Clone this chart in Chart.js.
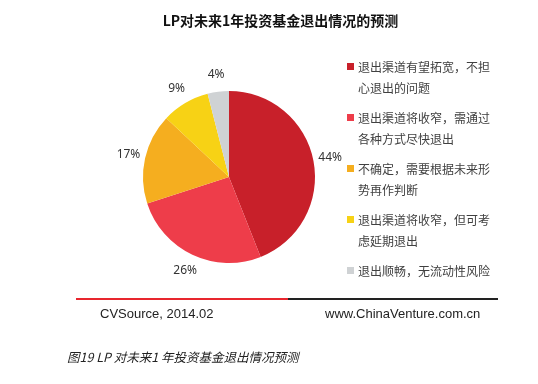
<!DOCTYPE html>
<html><head><meta charset="utf-8">
<script src="https://cdn.jsdelivr.net/npm/chart.js@4/dist/chart.umd.min.js"></script>
<style>
html,body{margin:0;padding:0;background:#fff;width:538px;height:384px;overflow:hidden;}
#wrap{position:relative;width:538px;height:384px;font-family:"Noto Sans CJK SC","Noto Sans",sans-serif;}
canvas{position:absolute;left:0;top:0;}
.title{position:absolute;left:0;width:561px;top:10px;text-align:center;font-weight:bold;font-size:14px;color:#111;line-height:20px;}
.legend{position:absolute;left:347px;top:56px;}
.item{position:relative;font-size:12px;line-height:21px;color:#404040;margin-bottom:9px;padding-left:11px;}
.sq{position:absolute;left:0;top:7px;width:7px;height:7px;}
.line{position:absolute;top:298px;height:2px;}
.foot{position:absolute;top:305px;font-family:"Liberation Sans",Arial,sans-serif;font-size:13px;color:#222;line-height:18px;}
.cap{position:absolute;left:67px;top:348px;font-size:12.5px;font-style:italic;color:#222;line-height:18px;}
</style></head>
<body><div id="wrap">
<canvas id="c" width="538" height="384"></canvas>
<div class="title" id="title"></div>
<div class="legend" id="legend"></div>
<div class="line" style="left:76px;width:212px;background:#E8262E"></div>
<div class="line" style="left:288px;width:210px;background:#222"></div>
<div class="foot" style="left:100px">CVSource, 2014.02</div>
<div class="foot" style="left:325px">www.ChinaVenture.com.cn</div>
<div class="cap">图19 LP 对未来1 年投资基金退出情况预测</div>
</div>
<script>
const chartTitle = "LP对未来1年投资基金退出情况的预测";
const categories = [
  ["退出渠道有望拓宽，不担","心退出的问题"],
  ["退出渠道将收窄，需通过","各种方式尽快退出"],
  ["不确定，需要根据未来形","势再作判断"],
  ["退出渠道将收窄，但可考","虑延期退出"],
  ["退出顺畅，无流动性风险"]
];
const values = [44, 26, 17, 9, 4];
const colors = ["#C8202A", "#EE3D4A", "#F5AE1F", "#F7D215", "#CFD2D4"];

document.getElementById('title').textContent = chartTitle;
const lg = document.getElementById('legend');
categories.forEach((lines, i) => {
  const d = document.createElement('div');
  d.className = 'item';
  const s = document.createElement('span');
  s.className = 'sq'; s.style.background = colors[i];
  d.appendChild(s);
  lines.forEach((t, k) => { if (k) d.appendChild(document.createElement('br')); d.appendChild(document.createTextNode(t)); });
  lg.appendChild(d);
});

const pctLabels = {
  id: 'pctLabels',
  afterDatasetsDraw(chart) {
    const ctx = chart.ctx;
    const meta = chart.getDatasetMeta(0);
    ctx.save();
    ctx.font = '12px "Noto Sans", sans-serif';
    ctx.fillStyle = '#333';
    ctx.textAlign = 'center';
    ctx.textBaseline = 'middle';
    meta.data.forEach((arc, i) => {
      const p = arc.getProps(['x','y','startAngle','endAngle','outerRadius'], true);
      const a = (p.startAngle + p.endAngle) / 2;
      const r = p.outerRadius + 17;
      ctx.fillText(values[i] + '%', p.x + Math.cos(a) * r, p.y + Math.sin(a) * r);
    });
    ctx.restore();
  }
};

new Chart(document.getElementById('c'), {
  type: 'pie',
  data: { labels: categories.map(l => l.join('')), datasets: [{ data: values, backgroundColor: colors, borderWidth: 0 }] },
  options: {
    responsive: false, animation: false,
    layout: { padding: { left: 143, right: 223, top: 91, bottom: 121 } },
    plugins: { legend: { display: false }, tooltip: { enabled: false } }
  },
  plugins: [pctLabels]
});
</script>
</body></html>
